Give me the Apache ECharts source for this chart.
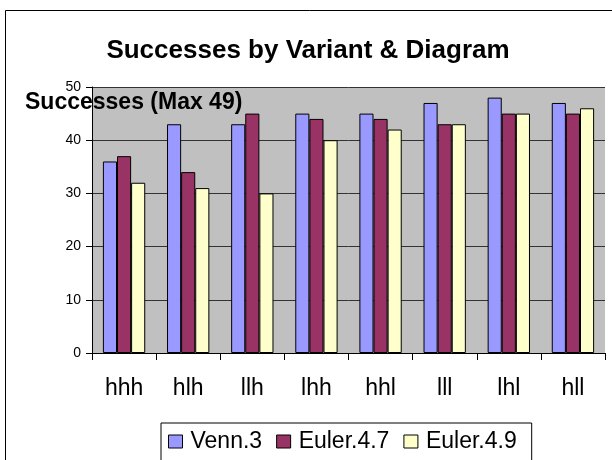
<!DOCTYPE html>
<html>
<head>
<meta charset="utf-8">
<script src="https://cdn.jsdelivr.net/npm/echarts@6/dist/echarts.min.js"></script>
<style>
  html, body { margin: 0; padding: 0; background: #fff; }
  #chart { width: 612px; height: 460px; }
</style>
</head>
<body>
<div id="chart"></div>
<script>
  const categories = ['hhh', 'hlh', 'llh', 'lhh', 'hhl', 'lll', 'lhl', 'hll']
  const venn3 = [36, 43, 43, 45, 45, 47, 48, 47]
  const euler47 = [37, 34, 45, 44, 44, 43, 45, 45]
  const euler49 = [32, 31, 30, 40, 42, 43, 45, 46]

  const font = 'Liberation Sans, Arial, sans-serif'
  const barBorder = { borderColor: '#000', borderWidth: 1 }

  const chart = echarts.init(document.getElementById('chart'), null, { renderer: 'canvas' })
  chart.setOption({
    backgroundColor: '#fff',
    animation: false,
    title: {
      text: 'Successes by Variant & Diagram',
      left: 303,
      textAlign: 'center',
      top: 33,
      textStyle: { fontFamily: font, fontSize: 26, fontWeight: 'bold', color: '#000' }
    },
    graphic: [
      {
        type: 'rect',
        shape: { x: 5.5, y: 10.5, width: 620, height: 460 },
        style: { fill: 'none', stroke: '#000', lineWidth: 1 },
        z: 0
      },
      {
        type: 'text',
        left: 25,
        top: 91,
        style: { text: 'Successes (Max 49)', fontFamily: font, fontSize: 23, fontWeight: 'bold', fill: '#000' },
        z: 100
      }
    ],
    legend: {
      data: ['Venn.3', 'Euler.4.7', 'Euler.4.9'],
      left: 161,
      top: 423,
      padding: [7, 15, 20, 7],
      itemWidth: 14,
      itemHeight: 13,
      itemGap: 14,
      icon: 'rect',
      borderColor: '#000',
      borderWidth: 1,
      textStyle: { fontFamily: font, fontSize: 23, color: '#000', padding: [0, 0, 0, 3] },
      itemStyle: barBorder
    },
    grid: {
      left: 92,
      right: 7,
      top: 87,
      bottom: 107,
      show: true,
      backgroundColor: '#c0c0c0',
      borderWidth: 0
    },
    xAxis: {
      type: 'category',
      data: categories,
      axisLine: { lineStyle: { color: '#000', width: 1 } },
      axisTick: { show: true, length: 7, lineStyle: { color: '#000' } },
      axisLabel: { fontFamily: font, fontSize: 23, color: '#000', margin: 24 },
      splitLine: { show: false }
    },
    yAxis: {
      type: 'value',
      min: 0,
      max: 50,
      interval: 10,
      axisLine: { show: true, lineStyle: { color: '#000', width: 1 } },
      axisTick: { show: true, length: 6, lineStyle: { color: '#000' } },
      axisLabel: { fontFamily: font, fontSize: 14, color: '#000', margin: 11 },
      splitLine: { show: true, lineStyle: { color: '#333', width: 1 } }
    },
    series: [
      { name: 'Venn.3', type: 'bar', data: venn3, barGap: '0%', barCategoryGap: '34%',
        itemStyle: Object.assign({ color: '#9999ff' }, barBorder) },
      { name: 'Euler.4.7', type: 'bar', data: euler47,
        itemStyle: Object.assign({ color: '#993366' }, barBorder) },
      { name: 'Euler.4.9', type: 'bar', data: euler49,
        itemStyle: Object.assign({ color: '#ffffcc' }, barBorder) }
    ]
  })
</script>
</body>
</html>
